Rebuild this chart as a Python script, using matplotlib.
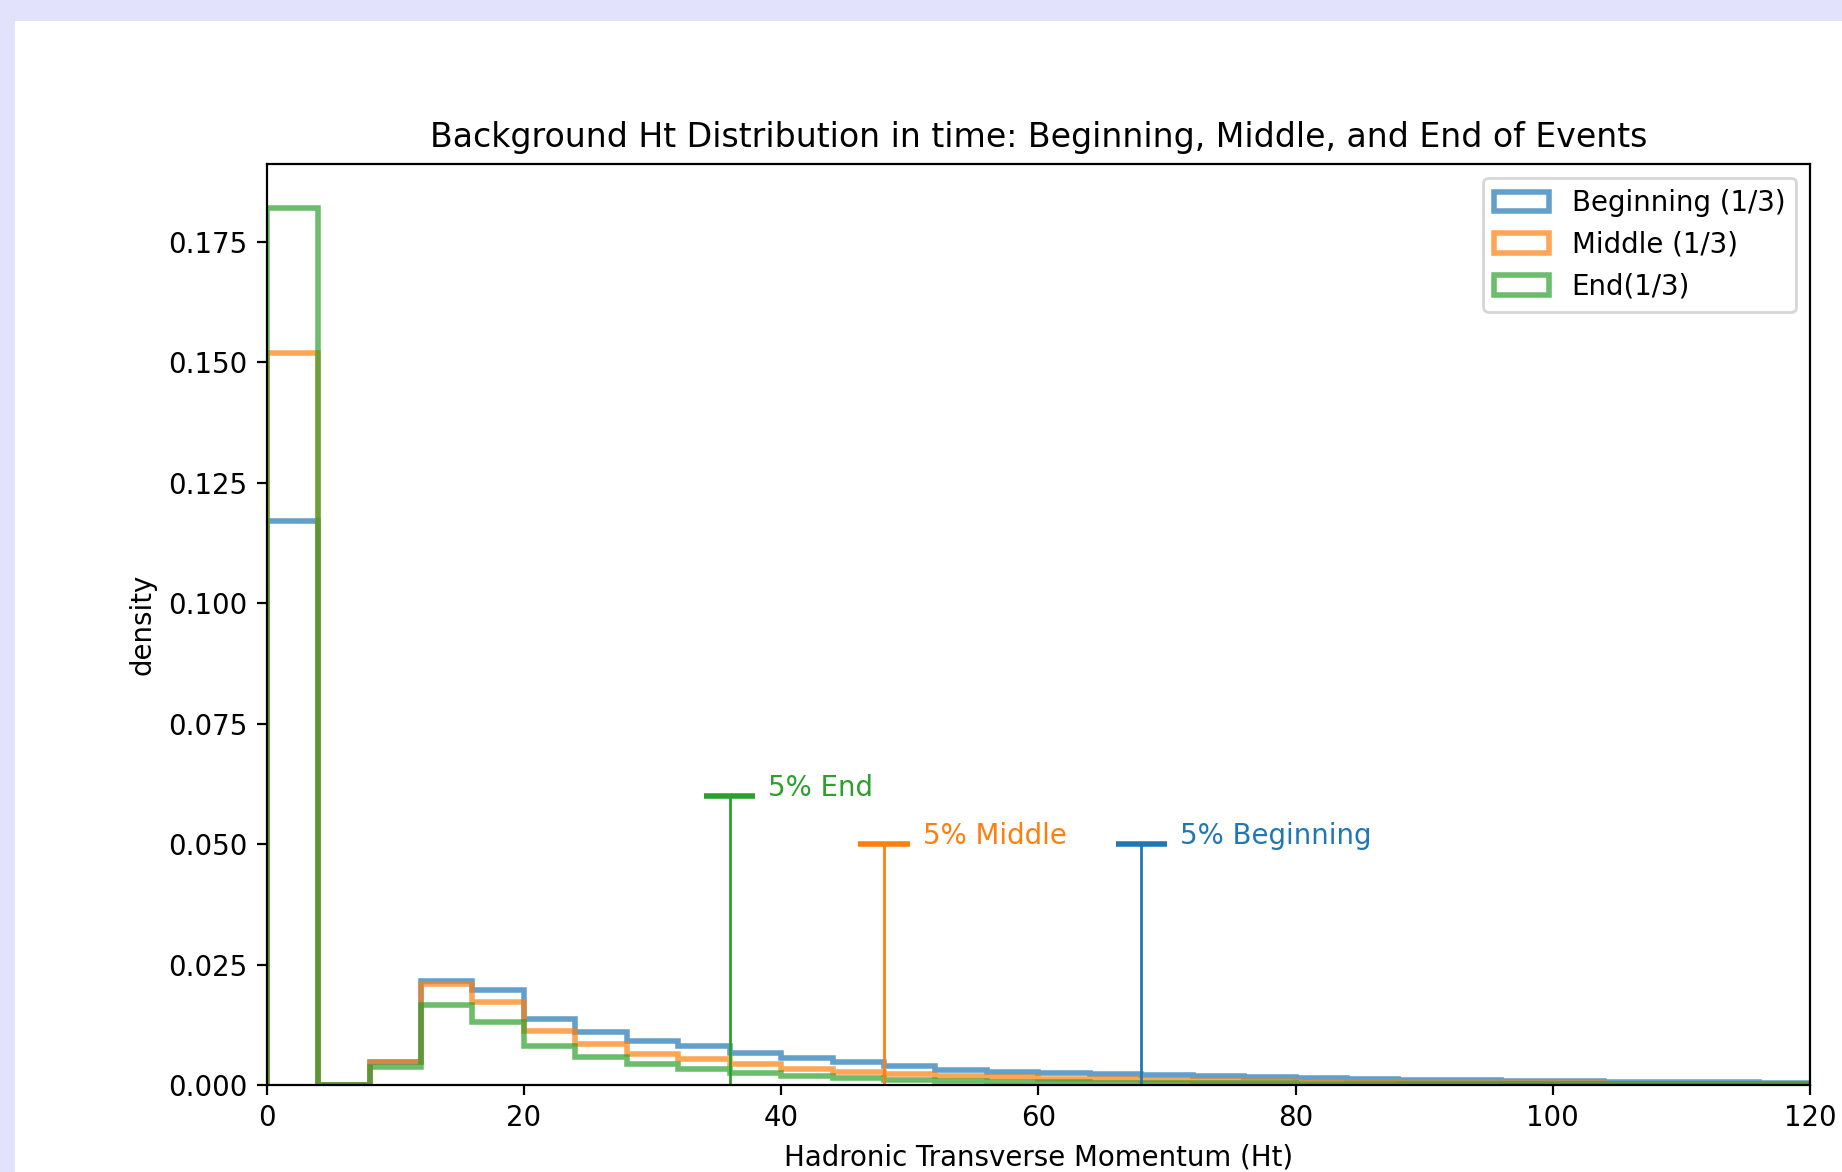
import numpy as np
import matplotlib.pyplot as plt
from matplotlib.patches import Rectangle

# bin edges of the Ht histogram (width 4)
edges = np.arange(0, 124, 4)

beginning = [0.1170, 0.0000, 0.0048, 0.0215, 0.0198, 0.0137, 0.0110, 0.0091,
             0.0081, 0.0067, 0.0056, 0.0047, 0.0040, 0.0032, 0.0027, 0.0024,
             0.0022, 0.0020, 0.0018, 0.0016, 0.0014, 0.0012, 0.0011, 0.0010,
             0.0009, 0.0008, 0.0007, 0.0006, 0.0006, 0.0005]
middle = [0.1520, 0.0000, 0.0048, 0.0209, 0.0173, 0.0112, 0.0086, 0.0065,
          0.0053, 0.0043, 0.0034, 0.0028, 0.0022, 0.0018, 0.0016, 0.0013,
          0.0012, 0.0010, 0.0009, 0.0008, 0.0007, 0.0006, 0.0005, 0.0005,
          0.0004, 0.0004, 0.0003, 0.0003, 0.0003, 0.0002]
end = [0.1821, 0.0000, 0.0038, 0.0167, 0.0130, 0.0081, 0.0058, 0.0043,
       0.0033, 0.0025, 0.0018, 0.0014, 0.0011, 0.0009, 0.0007, 0.0006,
       0.0005, 0.0005, 0.0004, 0.0004, 0.0003, 0.0003, 0.0003, 0.0003,
       0.0002, 0.0002, 0.0002, 0.0002, 0.0002, 0.0002]

series_labels = ["Beginning (1/3)", "Middle (1/3)", "End(1/3)"]
colors = ["tab:blue", "tab:orange", "tab:green"]

# 5% cut positions and the height of their marker
cut_names = ["5% End", "5% Middle", "5% Beginning"]
cut_x = [36, 48, 68]
cut_y = [0.06, 0.05, 0.05]
cut_colors = ["tab:green", "tab:orange", "tab:blue"]

dpi = 199
fig = plt.figure(figsize=(1842 / dpi, 1172 / dpi), dpi=dpi)
# lavender frame of the screenshot
fig.patches.append(Rectangle((0, 1 - 21 / 1172), 1, 21 / 1172, transform=fig.transFigure,
                             facecolor="#e2e2fd", edgecolor="none", zorder=-1))
fig.patches.append(Rectangle((0, 0), 15 / 1842, 1, transform=fig.transFigure,
                             facecolor="#e2e2fd", edgecolor="none", zorder=-1))

ax = fig.add_axes([266.7 / 1842, 87 / 1172, (1810 - 266.7) / 1842, (1085 - 164) / 1172])

centers = edges[:-1] + 2
for vals, lab, col in zip([beginning, middle, end], series_labels, colors):
    ax.hist(centers, bins=edges, weights=vals, histtype="step", lw=2,
            alpha=0.7, color=col, label=lab)

for name, x, y, col in zip(cut_names, cut_x, cut_y, cut_colors):
    ax.vlines(x, 0, y, color=col, lw=1)
    ax.hlines(y, x - 2, x + 2, color=col, lw=2)
    ax.text(x + 3, y, name, color=col)

ax.set_xlim(0, 120)
ax.set_title("Background Ht Distribution in time: Beginning, Middle, and End of Events")
ax.set_xlabel("Hadronic Transverse Momentum (Ht)")
ax.set_ylabel("density")
ax.legend(loc="upper right")

fig.savefig("out.png", dpi=dpi)
